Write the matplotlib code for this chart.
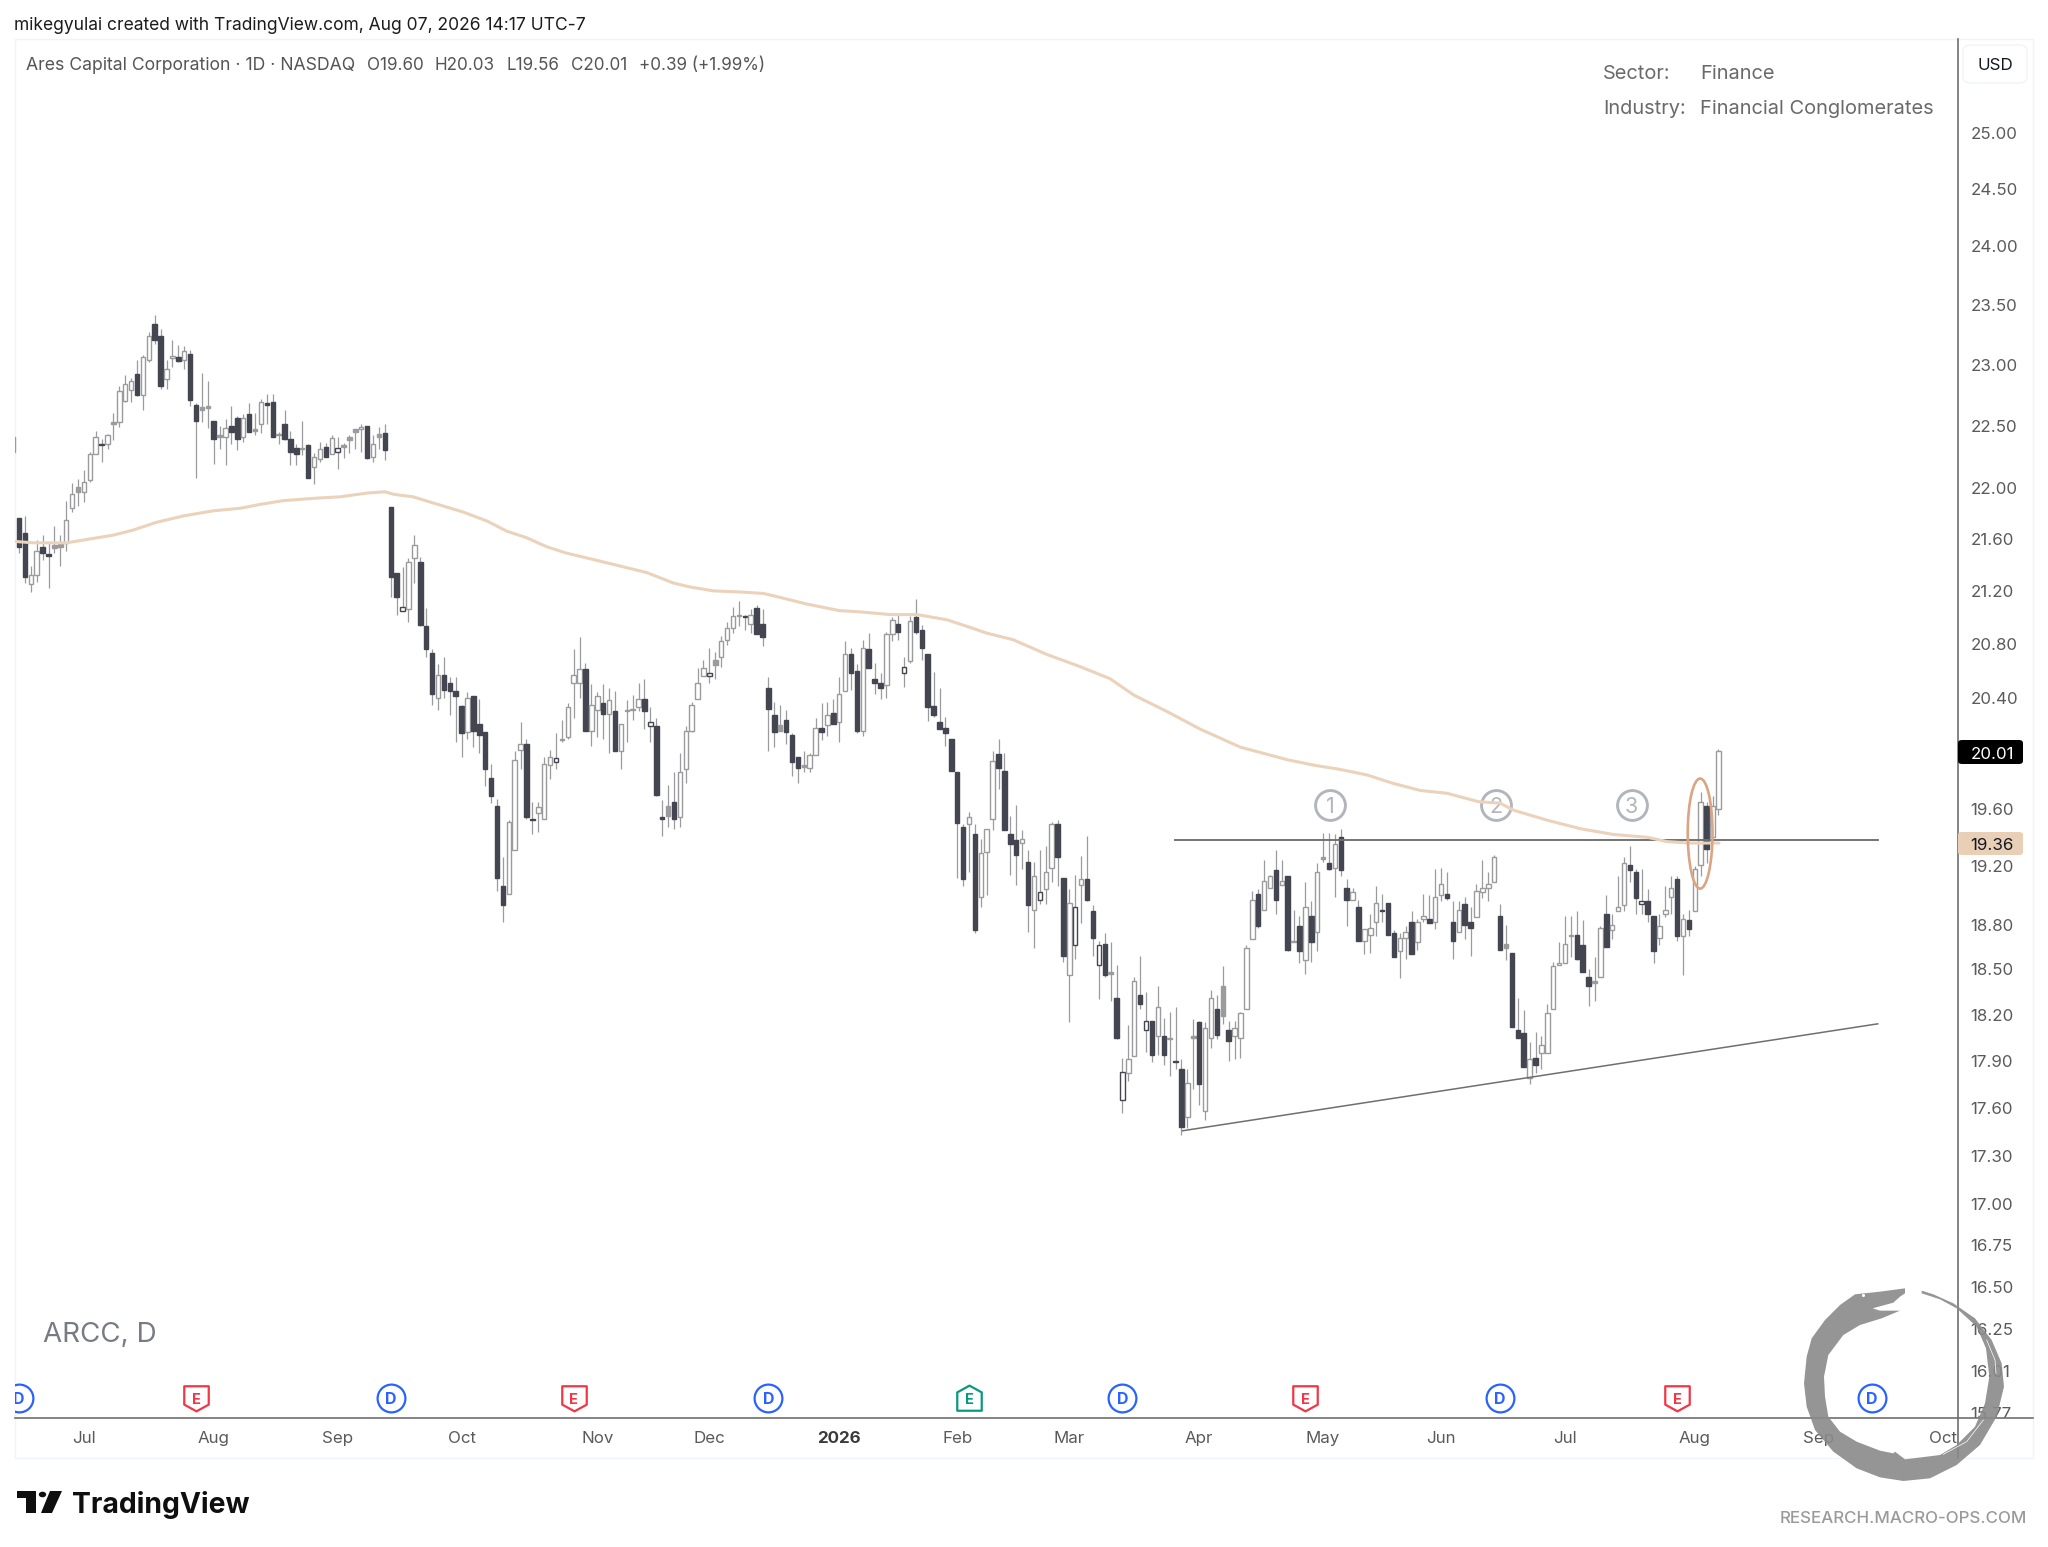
"""ARCC daily candles with 200-day average, TradingView style."""

import numpy as np
import matplotlib
matplotlib.use("Agg")
import matplotlib.pyplot as plt
from matplotlib.lines import Line2D
from matplotlib.patches import Circle, Ellipse, FancyBboxPatch, Polygon, Rectangle
from matplotlib.path import Path
from matplotlib.transforms import Bbox, TransformedBbox

plt.rcParams["font.family"] = ["Inter", "DejaVu Sans"]

# ── data ──────────────────────────────────────────────────────────────
# one value per session, first session sits just left of the pane
opens = [22.41,
    21.76, 21.65, 21.25, 21.32, 21.54, 21.48, 21.55, 21.56, 21.57, 21.84,
    22.01, 21.97, 22.06, 22.27, 22.35, 22.35, 22.53, 22.53, 22.70, 22.79,
    22.92, 22.75, 23.04, 23.34, 23.24, 22.88, 23.05, 23.06, 23.04, 23.09,
    22.67, 22.65, 22.66, 22.54, 22.42, 22.41, 22.50, 22.56, 22.41, 22.59,
    22.47, 22.51, 22.68, 22.69, 22.43, 22.51, 22.39, 22.32, 22.32, 22.34,
    22.17, 22.23, 22.33, 22.27, 22.29, 22.34, 22.41, 22.47, 22.47, 22.50,
    22.25, 22.43, 22.44, 21.85, 21.34, 21.05, 21.06, 21.45, 21.42, 20.93,
    20.73, 20.40, 20.57, 20.51, 20.45, 20.34, 20.15, 20.41, 20.21, 20.15,
    19.82, 19.62, 19.06, 19.01, 19.31, 20.02, 20.06, 19.53, 19.57, 19.53,
    19.91, 19.93, 20.10, 20.11, 20.51, 20.51, 20.61, 20.16, 20.31, 20.36,
    20.28, 20.30, 20.01, 20.31, 20.32, 20.33, 20.39, 20.19, 20.19, 19.54,
    19.62, 19.65, 19.54, 19.88, 20.16, 20.39, 20.56, 20.56, 20.68, 20.70,
    20.83, 20.92, 21.01, 21.01, 20.95, 21.07, 20.95, 20.47, 20.27, 20.20,
    20.24, 20.13, 19.97, 19.91, 19.89, 19.98, 20.18, 20.20, 20.29, 20.22,
    20.45, 20.72, 20.60, 20.16, 20.76, 20.54, 20.51, 20.49, 20.87, 20.95,
    20.58, 20.67, 21.00, 20.90, 20.72, 20.34, 20.22, 20.18, 20.10, 19.86,
    19.47, 19.49, 19.42, 18.99, 19.30, 19.53, 19.99, 19.87, 19.42, 19.38,
    19.36, 19.23, 18.90, 18.97, 19.04, 19.19, 19.49, 19.12, 18.46, 18.66,
    19.07, 19.11, 18.89, 18.53, 18.67, 18.48, 18.31, 17.65, 17.82, 17.93,
    18.33, 18.10, 18.16, 18.06, 18.06, 18.05, 17.90, 17.85, 17.54, 18.06,
    18.15, 17.58, 18.05, 18.24, 18.39, 18.10, 18.06, 18.05, 18.24, 18.70,
    19.01, 18.90, 19.05, 19.17, 19.07, 19.13, 18.69, 18.79, 18.56, 18.86,
    18.75, 19.26, 19.22, 19.19, 19.40, 19.05, 18.97, 18.92, 18.69, 18.73,
    18.82, 18.90, 18.95, 18.74, 18.62, 18.71, 18.82, 18.68, 18.84, 18.84,
    18.82, 19.00, 19.01, 18.82, 18.75, 18.94, 18.82, 18.85, 19.02, 19.05,
    19.09, 18.86, 18.67, 18.61, 18.10, 18.08, 17.79, 17.92, 17.95, 17.95,
    18.24, 18.53, 18.54, 18.72, 18.73, 18.66, 18.45, 18.42, 18.45, 18.87,
    18.76, 18.89, 18.93, 19.21, 19.16, 18.94, 18.96, 18.86, 18.71, 18.87,
    18.99, 19.11, 18.72, 18.83, 18.89, 19.21, 19.62, 19.40, 19.60]

highs = [22.41,
    21.76, 21.78, 21.39, 21.59, 21.63, 21.57, 21.70, 21.63, 21.90, 22.04,
    22.07, 22.14, 22.29, 22.46, 22.39, 22.43, 22.60, 22.82, 22.91, 22.89,
    23.04, 23.08, 23.27, 23.41, 23.30, 23.04, 23.20, 23.16, 23.15, 23.12,
    22.68, 22.93, 22.86, 22.54, 22.50, 22.55, 22.66, 22.58, 22.59, 22.68,
    22.60, 22.72, 22.76, 22.76, 22.45, 22.63, 22.46, 22.35, 22.54, 22.35,
    22.28, 22.37, 22.36, 22.42, 22.41, 22.36, 22.42, 22.47, 22.51, 22.50,
    22.42, 22.49, 22.51, 21.85, 21.34, 21.38, 21.45, 21.63, 21.46, 21.07,
    20.76, 20.65, 20.70, 20.55, 20.55, 20.35, 20.44, 20.41, 20.39, 20.15,
    19.92, 19.67, 19.26, 19.52, 20.01, 20.22, 20.10, 19.65, 19.65, 19.97,
    20.02, 20.14, 20.24, 20.36, 20.76, 20.85, 20.66, 20.50, 20.44, 20.50,
    20.47, 20.45, 20.21, 20.38, 20.42, 20.51, 20.54, 20.33, 20.25, 19.66,
    19.77, 19.86, 20.00, 20.19, 20.37, 20.62, 20.68, 20.77, 20.74, 20.86,
    20.96, 21.08, 21.12, 21.02, 21.06, 21.09, 21.06, 20.55, 20.37, 20.35,
    20.31, 20.14, 19.97, 20.01, 20.00, 20.25, 20.36, 20.37, 20.39, 20.55,
    20.82, 20.77, 20.65, 20.83, 20.88, 20.66, 20.58, 20.89, 21.00, 21.03,
    20.70, 21.01, 21.14, 20.94, 20.72, 20.59, 20.47, 20.26, 20.10, 19.86,
    19.49, 19.58, 19.49, 19.39, 19.46, 20.01, 20.10, 20.00, 19.55, 19.63,
    19.45, 19.31, 19.23, 19.31, 19.34, 19.51, 19.52, 19.12, 19.04, 19.14,
    19.27, 19.41, 18.93, 18.69, 18.74, 18.68, 18.53, 17.92, 18.13, 18.45,
    18.59, 18.35, 18.16, 18.39, 18.18, 18.22, 18.25, 17.91, 17.85, 18.17,
    18.16, 18.15, 18.36, 18.33, 18.52, 18.16, 18.16, 18.22, 18.66, 19.03,
    19.04, 19.24, 19.14, 19.31, 19.24, 19.13, 18.90, 18.86, 19.09, 18.96,
    19.22, 19.43, 19.43, 19.42, 19.46, 19.11, 19.05, 18.97, 18.77, 18.87,
    19.06, 19.01, 18.95, 18.76, 18.74, 18.79, 18.89, 18.84, 19.01, 19.00,
    19.18, 19.19, 19.16, 18.96, 18.96, 18.99, 18.92, 19.08, 19.24, 19.16,
    19.28, 18.94, 18.80, 18.61, 18.31, 18.23, 18.02, 18.09, 18.06, 18.27,
    18.55, 18.68, 18.86, 18.86, 18.89, 18.83, 18.50, 18.58, 18.79, 19.00,
    18.87, 19.13, 19.26, 19.34, 19.18, 19.18, 19.04, 18.86, 18.87, 19.06,
    19.13, 19.13, 18.87, 18.90, 19.20, 19.72, 19.65, 19.69, 20.03]

lows = [22.29,
    21.49, 21.26, 21.19, 21.27, 21.44, 21.22, 21.49, 21.39, 21.51, 21.81,
    21.86, 21.89, 22.05, 22.27, 22.21, 22.31, 22.38, 22.49, 22.69, 22.69,
    22.74, 22.63, 23.02, 23.17, 22.80, 22.80, 22.98, 23.02, 22.96, 22.66,
    22.08, 22.53, 22.48, 22.19, 22.31, 22.18, 22.35, 22.30, 22.37, 22.45,
    22.42, 22.44, 22.51, 22.41, 22.35, 22.38, 22.18, 22.18, 22.26, 22.08,
    22.03, 22.21, 22.25, 22.27, 22.15, 22.24, 22.28, 22.31, 22.29, 22.23,
    22.21, 22.31, 22.22, 21.15, 21.02, 21.05, 20.96, 21.26, 20.93, 20.70,
    20.35, 20.31, 20.40, 20.27, 20.08, 19.97, 20.10, 20.04, 20.00, 19.76,
    19.64, 19.03, 18.82, 19.01, 19.31, 19.88, 19.53, 19.42, 19.44, 19.53,
    19.81, 19.88, 20.08, 20.10, 20.25, 20.40, 20.16, 20.05, 20.11, 20.10,
    20.00, 20.01, 19.88, 20.08, 20.24, 20.30, 20.17, 20.08, 19.69, 19.41,
    19.47, 19.46, 19.47, 19.78, 20.15, 20.39, 20.56, 20.51, 20.54, 20.63,
    20.79, 20.88, 20.93, 20.90, 20.88, 20.87, 20.78, 20.01, 20.04, 20.16,
    20.06, 19.83, 19.78, 19.86, 19.86, 19.98, 20.09, 20.12, 20.21, 20.08,
    20.45, 20.46, 20.14, 20.12, 20.62, 20.43, 20.39, 20.40, 20.82, 20.83,
    20.48, 20.66, 20.87, 20.68, 20.23, 20.26, 20.17, 20.05, 19.87, 19.12,
    19.06, 19.16, 18.74, 18.92, 19.00, 19.45, 19.74, 19.45, 19.14, 19.07,
    19.18, 18.75, 18.64, 18.94, 18.94, 19.09, 19.06, 18.55, 18.15, 18.57,
    18.81, 18.96, 18.59, 18.30, 18.45, 18.29, 18.04, 17.57, 17.77, 17.93,
    18.24, 17.96, 17.89, 17.94, 17.87, 17.80, 17.85, 17.43, 17.47, 17.72,
    17.62, 17.52, 17.98, 18.04, 18.14, 17.90, 17.91, 17.92, 18.24, 18.70,
    18.78, 18.90, 19.05, 18.87, 19.07, 18.62, 18.68, 18.54, 18.47, 18.55,
    18.62, 19.23, 19.17, 18.99, 19.13, 18.79, 18.97, 18.69, 18.60, 18.61,
    18.72, 18.82, 18.73, 18.58, 18.44, 18.57, 18.60, 18.63, 18.82, 18.81,
    18.77, 18.96, 18.97, 18.57, 18.75, 18.70, 18.59, 18.85, 18.98, 18.96,
    19.09, 18.63, 18.56, 18.12, 18.05, 17.86, 17.75, 17.82, 17.85, 17.95,
    18.24, 18.53, 18.54, 18.58, 18.56, 18.48, 18.26, 18.29, 18.45, 18.65,
    18.70, 18.89, 18.89, 19.09, 18.87, 18.87, 18.82, 18.54, 18.66, 18.85,
    18.87, 18.69, 18.46, 18.72, 18.89, 19.13, 19.22, 19.40, 19.56]

closes = [22.29,
    21.54, 21.31, 21.32, 21.51, 21.49, 21.47, 21.53, 21.54, 21.75, 21.95,
    21.97, 22.05, 22.27, 22.41, 22.34, 22.42, 22.51, 22.78, 22.84, 22.86,
    22.75, 23.06, 23.24, 23.20, 22.82, 22.96, 23.07, 23.03, 23.11, 22.71,
    22.54, 22.63, 22.64, 22.39, 22.41, 22.48, 22.45, 22.39, 22.56, 22.45,
    22.46, 22.69, 22.67, 22.41, 22.42, 22.39, 22.29, 22.27, 22.31, 22.08,
    22.25, 22.31, 22.25, 22.40, 22.32, 22.33, 22.38, 22.45, 22.49, 22.24,
    22.35, 22.41, 22.30, 21.31, 21.15, 21.08, 21.42, 21.55, 20.94, 20.76,
    20.43, 20.57, 20.46, 20.45, 20.41, 20.14, 20.40, 20.16, 20.13, 19.88,
    19.69, 19.12, 18.93, 19.51, 19.95, 20.06, 19.54, 19.52, 19.61, 19.92,
    19.97, 19.96, 20.09, 20.33, 20.57, 20.61, 20.16, 20.35, 20.41, 20.28,
    20.38, 20.01, 20.21, 20.30, 20.31, 20.39, 20.30, 20.22, 19.70, 19.53,
    19.55, 19.53, 19.86, 20.16, 20.35, 20.51, 20.62, 20.58, 20.64, 20.82,
    20.92, 21.01, 21.02, 21.00, 21.02, 20.87, 20.85, 20.32, 20.15, 20.16,
    20.15, 19.93, 19.89, 19.90, 19.98, 20.18, 20.15, 20.27, 20.21, 20.43,
    20.72, 20.58, 20.16, 20.77, 20.62, 20.51, 20.47, 20.87, 20.98, 20.89,
    20.63, 20.97, 20.89, 20.77, 20.33, 20.27, 20.17, 20.14, 19.87, 19.50,
    19.11, 19.54, 18.76, 19.29, 19.46, 19.94, 19.89, 19.45, 19.35, 19.28,
    19.39, 18.93, 19.13, 19.02, 19.16, 19.49, 19.26, 18.59, 18.95, 18.92,
    19.11, 18.97, 18.71, 18.66, 18.46, 18.47, 18.05, 17.83, 17.91, 18.42,
    18.27, 18.16, 17.94, 18.25, 17.94, 18.04, 17.89, 17.48, 17.76, 18.05,
    17.75, 18.11, 18.31, 18.07, 18.19, 18.03, 18.11, 18.21, 18.64, 18.97,
    18.79, 19.10, 19.13, 18.97, 19.10, 18.63, 18.68, 18.62, 18.92, 18.68,
    19.16, 19.25, 19.18, 19.35, 19.17, 18.97, 19.02, 18.69, 18.77, 18.78,
    18.95, 18.89, 18.73, 18.58, 18.71, 18.75, 18.60, 18.82, 18.86, 18.81,
    18.99, 19.08, 18.98, 18.69, 18.90, 18.80, 18.78, 19.03, 19.05, 19.08,
    19.26, 18.63, 18.64, 18.12, 18.05, 17.86, 17.91, 17.87, 18.00, 18.21,
    18.52, 18.54, 18.67, 18.73, 18.57, 18.48, 18.39, 18.41, 18.78, 18.65,
    18.80, 18.92, 19.22, 19.17, 18.98, 18.96, 18.87, 18.62, 18.79, 18.90,
    19.05, 18.72, 18.84, 18.77, 19.18, 19.65, 19.32, 19.62, 20.01]

# session index of each bar, the pane's left edge falls inside the first one
sessions = list(range(-1, 288 + 1))

ma_sessions = [-0.5, 2.4, 8.1, 12, 16, 19.4, 23.3, 27.9, 32.9, 37.5, 40.8, 44.8,
               50.5, 54.4, 59, 62, 63.5, 66.8, 69.6, 75.3, 79.3, 82.7, 86, 89.4,
               92.8, 97.4, 101.9, 106.4, 110.9, 113.7, 117.7, 122.8, 126.2, 129,
               133.5, 139, 142.6, 147.6, 152.2, 157.3, 160.7, 164, 168.5, 174.2,
               179.8, 184.9, 188.9, 194.5, 200.2, 207, 214.9, 219.5, 223.9, 228.5,
               232.9, 237.5, 242, 247.4, 251, 253.3, 259, 264.6, 270.2, 276, 279.3,
               283, 288.1]
ma_values = [21.58, 21.57, 21.57, 21.60, 21.63, 21.67, 21.73, 21.78, 21.82, 21.84,
             21.87, 21.90, 21.92, 21.93, 21.96, 21.97, 21.95, 21.93, 21.89, 21.81,
             21.74, 21.66, 21.61, 21.54, 21.49, 21.44, 21.39, 21.34, 21.26, 21.23,
             21.20, 21.19, 21.18, 21.15, 21.10, 21.05, 21.04, 21.02, 21.02, 20.98,
             20.93, 20.88, 20.83, 20.72, 20.63, 20.54, 20.42, 20.30, 20.17, 20.04,
             19.95, 19.91, 19.88, 19.84, 19.78, 19.73, 19.71, 19.65, 19.64, 19.59,
             19.52, 19.46, 19.42, 19.40, 19.37, 19.36, 19.36]

price_ticks = [25.00, 24.50, 24.00, 23.50, 23.00, 22.50, 22.00, 21.60, 21.20, 20.80,
               20.40, 19.60, 19.20, 18.80, 18.50, 18.20, 17.90, 17.60, 17.30, 17.00,
               16.75, 16.50, 16.25, 16.01, 15.77]
month_sessions = [11, 33, 54, 75, 98, 117, 139, 159, 178, 200, 221, 241, 262, 284, 305, 326]
month_labels = ["Jul", "Aug", "Sep", "Oct", "Nov", "Dec", "2026", "Feb", "Mar", "Apr",
                "May", "Jun", "Jul", "Aug", "Sep", "Oct"]

dividend_sessions = [0, 63, 127, 187, 251, 314]
earnings_sessions = [30, 94, 218, 281]
earnings_up_sessions = [161]

count_labels = ["1", "2", "3"]
count_sessions = [222.2, 250.3, 273.3]
count_price = 19.63
resistance_sessions = [195.9, 315]
resistance_prices = [19.38, 19.38]
support_sessions = [197.2, 315]
support_prices = [17.455, 18.14]

last_close = 20.01
last_ma = 19.36

# ── colours ───────────────────────────────────────────────────────────
DARK = "#434651"
GRAY = "#9b9b9d"
MA_COL = "#ebd2ba"
LINE_COL = "#6f6f6f"
TICK_COL = "#5a5a5a"
COUNT_COL = "#b2b5be"
BLUE = "#2962ff"
RED = "#f23645"
GREEN = "#089981"
W, H = 2048, 1547


def fx(px):
    return px / W


def fy(py):
    return 1 - py / H


def px_xy(points):
    return [(fx(x), fy(y)) for x, y in points]


# ── figure ────────────────────────────────────────────────────────────
fig = plt.figure(figsize=(W / 100, H / 100), dpi=100, facecolor="white")

# outer chart frame
fig.add_artist(Rectangle((fx(15), fy(1458)), fx(2033 - 15), (1458 - 39) / H,
                         transform=fig.transFigure, fc="none", ec="#f0f3fa", lw=1, zorder=-1))

ax = fig.add_axes([fx(15), fy(1418), fx(1958 - 15), (1418 - 39) / H])
ax.patch.set_alpha(0)
ax.set_yscale("log")
ax.set_xlim(-0.68, 328.6)
ax.set_ylim(15.74, 25.86)

# ── candles ───────────────────────────────────────────────────────────
o = np.array(opens)
h = np.array(highs)
l = np.array(lows)
c = np.array(closes)
x = np.array(sessions)
prev = np.r_[c[0], c[:-1]]

hollow = c > o
falling = c < prev
edge = [DARK if f else GRAY for f in falling]
face = ["white" if ho else (DARK if f else GRAY) for ho, f in zip(hollow, falling)]

ax.vlines(x, l, h, color=GRAY, lw=0.9, zorder=2)
ax.bar(x, np.abs(c - o), width=0.76, bottom=np.minimum(o, c), color=face,
       edgecolor=edge, linewidth=1.0, zorder=3)

# ── average and drawings ──────────────────────────────────────────────
ax.plot(ma_sessions, ma_values, color=MA_COL, lw=2.2, zorder=6, solid_capstyle="round")
ax.plot(resistance_sessions, resistance_prices, color=LINE_COL, lw=1.35, zorder=5)
ax.plot(support_sessions, support_prices, color=LINE_COL, lw=1.1, zorder=5)
ax.add_patch(Ellipse((284.9, 19.43), 4.2, 0.77, fill=False, ec="#dba482", lw=1.9, zorder=7))

ax.plot(count_sessions, [count_price] * 3, ls="", marker="o", ms=21.5, mfc="none",
        mec=COUNT_COL, mew=2.1, zorder=4)
for s, lab in zip(count_sessions, count_labels):
    ax.text(s, count_price, lab, color=COUNT_COL, fontsize=15.5, ha="center",
            va="center_baseline", zorder=4)

# ── event markers along the bottom of the pane ───────────────────────
ev_y = (1418 - 1398) / (1418 - 39)
trans = ax.get_xaxis_transform()
shield = Path([(-1, 1), (1, 1), (1, -0.5), (0, -1.05), (-1, -0.5), (-1, 1)], closed=True)
house = Path([(-1, -1), (1, -1), (1, 0.5), (0, 1.05), (-1, 0.5), (-1, -1)], closed=True)

ax.plot(dividend_sessions, [ev_y] * len(dividend_sessions), transform=trans, ls="",
        marker="o", ms=20, mfc="white", mec=BLUE, mew=1.6, zorder=8)
ax.plot(earnings_sessions, [ev_y] * len(earnings_sessions), transform=trans, ls="",
        marker=shield, ms=18.5, mfc="white", mec=RED, mew=1.6, zorder=8)
ax.plot(earnings_up_sessions, [ev_y] * 1, transform=trans, ls="",
        marker=house, ms=18.5, mfc="white", mec=GREEN, mew=1.6, zorder=8)
for s in dividend_sessions:
    ax.text(s, ev_y, "D", transform=trans, color=BLUE, fontsize=11.5, fontweight="bold",
            ha="center", va="center_baseline", zorder=9, clip_on=True)
for s in earnings_sessions:
    ax.text(s, ev_y, "E", transform=trans, color=RED, fontsize=10.5, fontweight="bold",
            ha="center", va="center_baseline", zorder=9)
for s in earnings_up_sessions:
    ax.text(s, ev_y, "E", transform=trans, color=GREEN, fontsize=10.5, fontweight="bold",
            ha="center", va="center_baseline", zorder=9)

# ── axes ──────────────────────────────────────────────────────────────
for side in ("left", "top"):
    ax.spines[side].set_visible(False)
ax.spines["right"].set_color(LINE_COL)
ax.spines["right"].set_linewidth(1.2)
ax.spines["bottom"].set_color(LINE_COL)
ax.spines["bottom"].set_linewidth(1.2)

ax.yaxis.tick_right()
ax.set_yticks(price_ticks, labels=[f"{v:.2f}" for v in price_ticks])
ax.minorticks_off()
ax.tick_params(axis="y", length=0, pad=9, labelsize=12.2, labelcolor=TICK_COL)
ax.set_xticks(month_sessions, labels=month_labels)
ax.tick_params(axis="x", length=0, pad=9.5, labelsize=12.2, labelcolor=TICK_COL)
for lbl in ax.get_xticklabels():
    if lbl.get_text() == "2026":
        lbl.set_fontweight("bold")
        lbl.set_color("#3a3a3a")
# the lowest price label is cut by the time axis
low_lbl = ax.get_yticklabels()[-1]
low_lbl.set_clip_on(True)
low_lbl.set_clip_box(TransformedBbox(Bbox.from_extents(0, fy(1418), 1, 1), fig.transFigure))

# axis lines run on across the frame
fig.add_artist(Line2D([fx(1958), fx(2033)], [fy(1418)] * 2, color=LINE_COL, lw=1.2))
fig.add_artist(Line2D([fx(1958)] * 2, [fy(1418), fy(1458)], color=LINE_COL, lw=1.2))

# last price badges
def badge(top, bottom, fc, text, tc):
    fig.add_artist(FancyBboxPatch((fx(1958), fy(bottom)), fx(2023 - 1958), (bottom - top) / H,
                                  boxstyle="round,pad=0,rounding_size=0.002",
                                  transform=fig.transFigure, fc=fc, ec="none", zorder=10))
    fig.text(fx(1992), fy((top + bottom) / 2 + 0.5), text, color=tc, fontsize=12.2, ha="center",
             va="center_baseline", zorder=11)


badge(740, 764, "#000000", f"{last_close:.2f}", "white")
badge(832, 855, "#e8cfb6", f"{last_ma:.2f}", "#131722")

# currency box
fig.add_artist(FancyBboxPatch((fx(1963), fy(83)), fx(64), 38 / H,
                              boxstyle="round,pad=0,rounding_size=0.004",
                              transform=fig.transFigure, fc="white", ec="#f0f3fa", lw=1))
fig.text(fx(1995), fy(64), "USD", color="#131722", fontsize=12.2, ha="center", va="center_baseline")

# ── header and labels ─────────────────────────────────────────────────
fig.text(fx(14), fy(24), "mikegyulai created with TradingView.com, Aug 07, 2026 14:17 UTC-7",
         color="#1c1c1c", fontsize=12.55, va="center_baseline")
fig.text(fx(26), fy(63), "Ares Capital Corporation · 1D · NASDAQ", color="#555555", fontsize=12.7,
         va="center_baseline")
for px_left, txt in [(367, "O19.60"), (435, "H20.03"), (507, "L19.56"), (571, "C20.01"),
                     (639, "+0.39 (+1.99%)")]:
    fig.text(fx(px_left), fy(63), txt, color="#555555", fontsize=12.3, va="center_baseline")
for py, k, v in [(72, "Sector:", "Finance"), (107, "Industry:", "Financial Conglomerates")]:
    fig.text(fx(1603), fy(py), k, color="#6a6a6a", fontsize=14.4, va="center_baseline")
    fig.text(fx(1700.5), fy(py), v, color="#6a6a6a", fontsize=14.4, va="center_baseline")
fig.text(fx(43), fy(1332), "ARCC, D", color="#787b86", fontsize=20, va="center_baseline")

# TradingView mark
INK = "#0f0f0f"
fig.add_artist(Polygon(px_xy([(17, 1491), (36, 1491), (36, 1513), (26, 1513), (26, 1498), (17, 1498)]),
                       transform=fig.transFigure, fc=INK, ec="none"))
fig.add_artist(Circle((fx(42.5), fy(1494.5)), 3.7 / W, transform=fig.transFigure, fc=INK, ec="none"))
fig.add_artist(Polygon(px_xy([(50, 1491), (62, 1491), (52, 1513), (41, 1513)]),
                       transform=fig.transFigure, fc=INK, ec="none"))
fig.text(fx(72), fy(1502), "TradingView", color=INK, fontsize=20.4, fontweight="bold", va="center_baseline")

fig.text(fx(2027), fy(1517), "RESEARCH.MACRO-OPS.COM", color="#9a9a9a", fontsize=12.2,
         fontweight="medium", ha="right", va="center_baseline")

# ── ouroboros watermark ──────────────────────────────────────────────
def snake(z):
    return [(fx(1700 + a / 3), fy(1260 + b / 3)) for a, b in z]


snake_outline = [(615, 85), (540, 95), (465, 103), (420, 135), (375, 180), (335, 235), (320, 290),
                 (312, 370), (320, 440), (345, 510), (400, 575), (470, 625), (540, 652), (610, 663),
                 (690, 655), (770, 615), (840, 555), (890, 470), (912, 380), (905, 310), (875, 240),
                 (825, 175), (760, 130), (700, 103), (665, 92), (665, 100), (720, 118), (770, 145),
                 (830, 200), (858, 265), (868, 350), (855, 430), (825, 500), (770, 555), (720, 585),
                 (680, 590), (615, 598), (585, 575), (580, 580), (540, 572), (470, 545), (420, 515),
                 (385, 470), (375, 410), (372, 350), (385, 285), (430, 225), (480, 195), (545, 175),
                 (600, 152), (540, 152), (518, 145), (580, 128), (600, 110), (615, 100)]
fig.add_artist(Polygon(snake(snake_outline), transform=fig.transFigure, fc="#8a8a8a", ec="none",
                       alpha=0.9, zorder=20))
for seg in ([(860, 240), (885, 300), (888, 340)], [(730, 583), (800, 545), (850, 480)]):
    pts = snake(seg)
    fig.add_artist(Line2D([p[0] for p in pts], [p[1] for p in pts], color="white", lw=0.5, zorder=21))
fig.add_artist(Line2D([fx(1700 + 490 / 3)], [fy(1260 + 105 / 3)], marker="o", ms=2.2, color="white",
                      mec="none", zorder=21))

fig.savefig("out.png", dpi=100)
